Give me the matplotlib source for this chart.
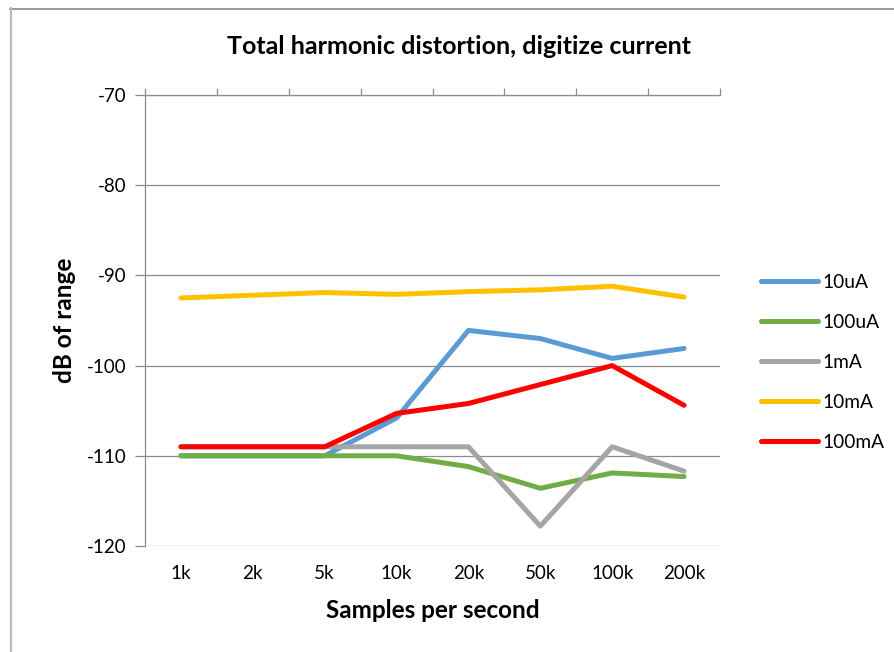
import matplotlib.pyplot as plt
from matplotlib.lines import Line2D
from matplotlib.ticker import FixedLocator
import numpy as np

plt.rcParams['font.family'] = ['Lato', 'DejaVu Sans']
plt.rcParams['axes.unicode_minus'] = False
#
# Data (dB of range)
#
rates = ['1k', '2k', '5k', '10k', '20k', '50k', '100k', '200k']
thd_10uA = [-110, -110, -110, -105.8, -96.1, -97.0, -99.2, -98.1]
thd_100uA = [-110, -110, -110, -110, -111.2, -113.6, -111.9, -112.3]
thd_1mA = [-109, -109, -109, -109, -109, -117.8, -109.0, -111.7]
thd_10mA = [-92.5, -92.2, -91.9, -92.1, -91.8, -91.6, -91.2, -92.4]
thd_100mA = [-109, -109, -109, -105.3, -104.2, -102.1, -100.0, -104.4]
#
# Set up the figure
#
fig = plt.figure(figsize=(8.95, 6.52), dpi=100)
ax = fig.add_axes([145/895, 1-546/652, 575/895, 451/652])

x = np.arange(len(rates))
series = [
    ('10uA', thd_10uA, '#5B9BD5'),
    ('100uA', thd_100uA, '#70AD47'),
    ('1mA', thd_1mA, '#A5A5A5'),
    ('10mA', thd_10mA, '#FFC000'),
    ('100mA', thd_100mA, '#FF0000'),
]
for name, vals, col in series:
    ax.plot(x, vals, color=col, linewidth=3.6, label=name,
            solid_capstyle='round', solid_joinstyle='round', zorder=3)

ax.set_xlim(-0.5, len(rates) - 0.5)
ax.set_ylim(-120, -70)
ax.set_yticks(np.arange(-120, -69, 10))
ax.set_xticks(x)
ax.set_xticklabels(rates)
ax.grid(axis='y', color='#8C8C8C', linewidth=0.9, zorder=1)

for s in ['right', 'bottom']:
    ax.spines[s].set_visible(False)
for s in ['left', 'top']:
    ax.spines[s].set_color('#8C8C8C')
    ax.spines[s].set_linewidth(0.9)

ax.tick_params(axis='x', which='major', length=0, pad=14, labelsize=13.5)
ax.xaxis.set_minor_locator(FixedLocator(np.arange(-0.5, len(rates), 1.0)))
ax.tick_params(axis='x', which='minor', bottom=False, top=True,
               direction='out', length=5, color='#8C8C8C', width=0.9)
ax.tick_params(axis='y', length=7, color='#8C8C8C', width=0.9,
               labelsize=13.5, pad=6)

# chart title sits centred on the whole chart area, not the plot area
fig.text(459/895, 1-46/652, 'Total harmonic distortion, digitize current',
         fontsize=18, fontweight='bold', ha='center', va='center')
ax.set_xlabel('Samples per second', fontsize=17.5, fontweight='bold', labelpad=12)
ax.set_ylabel('dB of range', fontsize=17.5, fontweight='bold', labelpad=8)

fig.legend(loc='center left', bbox_to_anchor=(753/895, 1-362/652),
           frameon=False, fontsize=13.8, handlelength=3.0,
           handletextpad=0.2, labelspacing=1.2, borderaxespad=0)
#
# Outer chart frame
#
fig.add_artist(Line2D([10/895, 1], [1-8.5/652, 1-8.5/652],
                      transform=fig.transFigure, color='#888888', linewidth=1.2))
fig.add_artist(Line2D([11/895, 11/895], [0, 1-8/652],
                      transform=fig.transFigure, color='#BBBBBB', linewidth=1.6))

fig.savefig('out.png', dpi=100)
